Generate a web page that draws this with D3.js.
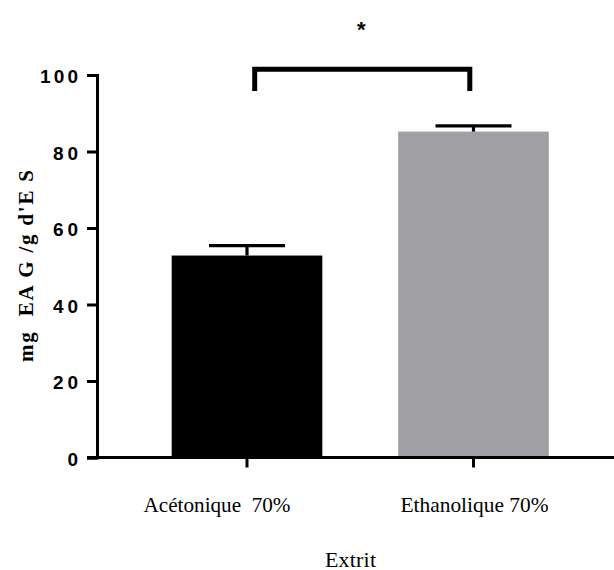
<!DOCTYPE html>
<html>
<head>
<meta charset="utf-8">
<script src="https://cdnjs.cloudflare.com/ajax/libs/d3/7.8.5/d3.min.js"></script>
<style>
  html, body { margin: 0; padding: 0; background: #fff; }
  svg { display: block; }
</style>
</head>
<body>
<script>
// ---- data ----
const categories = ["Acétonique  70%", "Ethanolique 70%"];
const means = [52.8, 85.2];
const errors = [2.6, 1.5];
const barColors = ["#000000", "#a09fa4"];
const yTicks = [0, 20, 40, 60, 80, 100];
const yTitle = "mg  EA G /g d'E S";
const xTitle = "Extrit";
const significance = "*";
const bracketLevel = 101.5;
const bracketFoot = 95.8;

// ---- layout ----
const W = 614, H = 570;
const svg = d3.select("body").append("svg").attr("width", W).attr("height", H);

const y = d3.scaleLinear().domain([0, 100]).range([457.5, 75]);
const x = d3.scaleBand().domain(categories)
  .range([133.75, 586.75]).paddingInner(0.335).paddingOuter(0.1675);

const sans = "'Liberation Sans', Arial, sans-serif";
const serif = "'Liberation Serif', 'Times New Roman', serif";

// bars
svg.append("g").selectAll("rect").data(categories).join("rect")
  .attr("x", d => x(d))
  .attr("width", x.bandwidth())
  .attr("y", (d, i) => y(means[i]))
  .attr("height", (d, i) => y(0) - y(means[i]))
  .attr("fill", (d, i) => barColors[i]);

// error bars (upper only)
const eb = svg.append("g").attr("stroke", "#000").attr("stroke-width", 3.2);
categories.forEach((c, i) => {
  const cx = x(c) + x.bandwidth() / 2;
  const top = y(means[i] + errors[i]);
  eb.append("line").attr("x1", cx).attr("x2", cx).attr("y1", y(means[i])).attr("y2", top);
  eb.append("line").attr("x1", cx - 38).attr("x2", cx + 38).attr("y1", top).attr("y2", top);
});

// y axis
const yAxis = svg.append("g").attr("transform", "translate(97,0)")
  .call(d3.axisLeft(y).tickValues(yTicks).tickSize(10).tickSizeOuter(10).tickPadding(9));
yAxis.selectAll("path, line").attr("stroke", "#000").attr("stroke-width", 3);
yAxis.selectAll("text")
  .attr("font-family", sans).attr("font-weight", "bold").attr("font-size", 19)
  .attr("fill", "#000").attr("dy", "0.4em")
  .attr("textLength", d => String(d).length === 3 ? 38 : (String(d).length === 2 ? 25 : 11))
  .attr("lengthAdjust", "spacing");

// x axis
const xAxis = svg.append("g").attr("transform", `translate(0,${y(0)})`)
  .call(d3.axisBottom(x).tickSize(10).tickSizeOuter(0));
xAxis.select(".domain").remove();
xAxis.append("line").attr("x1", 87).attr("x2", W).attr("y1", 0).attr("y2", 0)
  .attr("stroke", "#000").attr("stroke-width", 3);
xAxis.selectAll(".tick line").attr("stroke", "#000").attr("stroke-width", 3);
xAxis.selectAll(".tick text")
  .attr("font-family", serif).attr("font-size", 22).attr("fill", "#000")
  .attr("y", 54).attr("dy", 0).style("white-space", "pre")
  .attr("dx", (d, i) => i === 0 ? -30 : 1)
  .attr("textLength", (d, i) => i === 0 ? 147 : 148)
  .attr("lengthAdjust", "spacingAndGlyphs");

// axis titles
svg.append("text")
  .attr("x", 350.5).attr("y", 566.5).attr("text-anchor", "middle")
  .attr("font-family", serif).attr("font-size", 22)
  .attr("textLength", 51).attr("lengthAdjust", "spacing")
  .text(xTitle);

svg.append("text")
  .attr("transform", "translate(33,266) rotate(-90)")
  .attr("text-anchor", "middle")
  .attr("font-family", serif).attr("font-weight", "bold").attr("font-size", 21)
  .style("white-space", "pre")
  .attr("textLength", 192).attr("lengthAdjust", "spacing")
  .text(yTitle);

// significance bracket
const bx1 = x(categories[0]) + x.bandwidth() / 2 + 7.7;
const bx2 = x(categories[1]) + x.bandwidth() / 2 - 3.7;
svg.append("path")
  .attr("d", `M${bx1},${y(bracketFoot)} L${bx1},${y(bracketLevel)} L${bx2},${y(bracketLevel)} L${bx2},${y(bracketFoot)}`)
  .attr("fill", "none").attr("stroke", "#000").attr("stroke-width", 5);

svg.append("text")
  .attr("x", (bx1 + bx2) / 2 - 1).attr("y", 37)
  .attr("text-anchor", "middle")
  .attr("font-family", sans).attr("font-weight", "bold").attr("font-size", 22)
  .text(significance);
</script>
</body>
</html>
